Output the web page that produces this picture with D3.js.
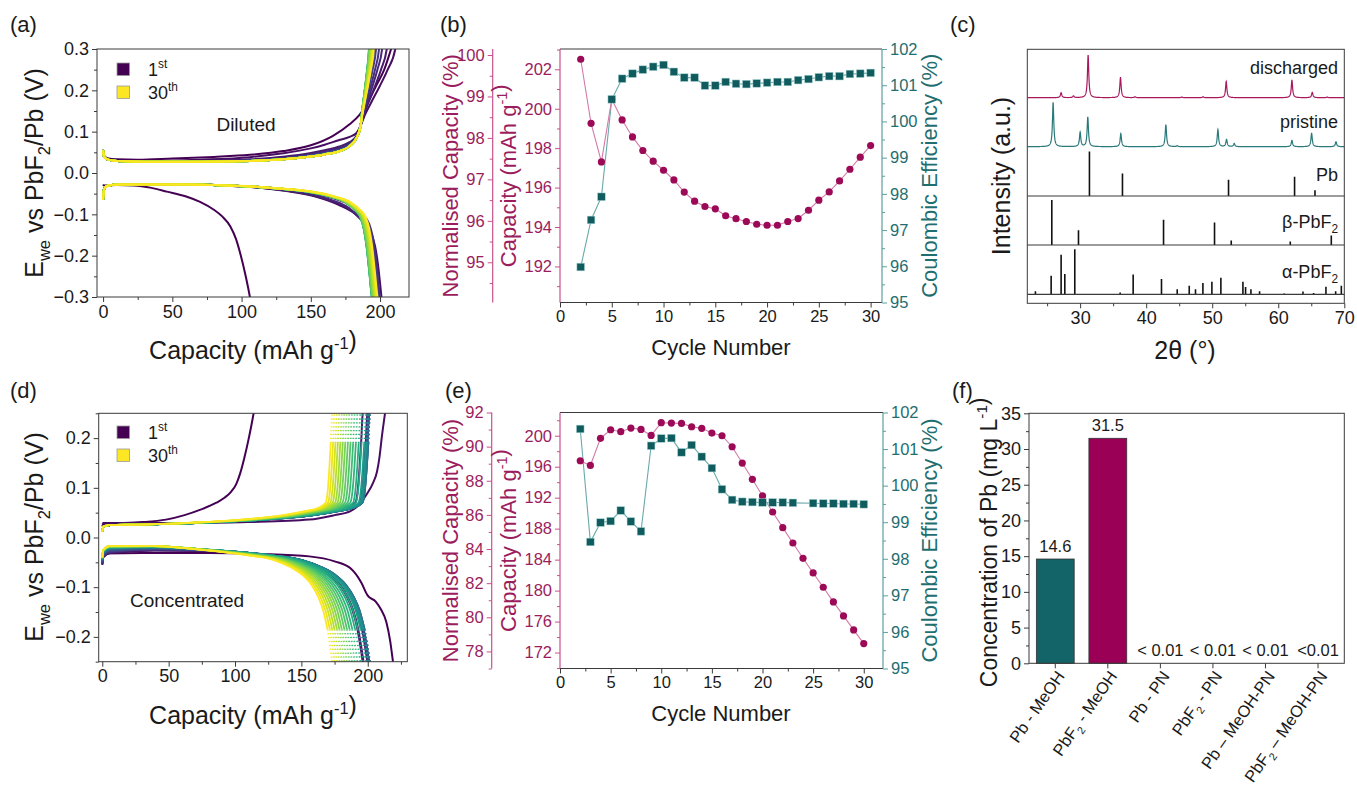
<!DOCTYPE html>
<html><head><meta charset="utf-8">
<script src="https://cdn.jsdelivr.net/npm/d3@7/dist/d3.min.js"></script>
<style>
body{margin:0;background:#fff;}
svg{font-family:"Liberation Sans",Arial,Helvetica,sans-serif;}
</style></head><body>
<svg id="fig" width="1357" height="787"></svg>
<script>
// ================= DATA =================
// cycles 2..30 for panels (b) and (e)
const cyclesBE = d3.range(2, 31);
const capB = [202.51,199.26,197.30,200.48,199.43,198.57,197.88,197.34,196.88,196.39,195.77,195.31,195.04,194.92,194.57,194.42,194.28,194.14,194.09,194.09,194.28,194.43,194.85,195.36,195.78,196.34,196.93,197.54,198.13];
const ceB  = [95.98,97.28,97.92,100.61,101.18,101.32,101.43,101.51,101.56,101.37,101.21,101.21,100.99,100.99,101.09,101.04,101.03,101.05,101.07,101.09,101.09,101.14,101.17,101.22,101.25,101.25,101.31,101.32,101.34];
const capE = [196.77,196.17,199.66,200.77,200.52,200.99,200.82,200.04,201.68,201.63,201.59,201.16,200.95,200.34,200.00,198.58,196.47,194.37,192.22,190.15,188.13,186.15,184.17,182.28,180.43,178.54,176.73,174.92,173.16];
const ceE  = [101.55,98.46,98.99,99.03,99.32,99.02,98.75,101.09,101.29,101.30,100.91,101.11,100.79,100.48,99.90,99.61,99.56,99.55,99.54,99.54,99.54,99.53,null,99.52,99.51,99.51,99.50,99.50,99.49];

// axis ticks
const cycleTicks = [0,5,10,15,20,25,30];
const capTicksB = [192,194,196,198,200,202];
const normTicksB = [95,96,97,98,99,100];
const capTicksE = [172,176,180,184,188,192,196,200];
const normTicksE = [78,80,82,84,86,88,90,92];
const ceTicks = [95,96,97,98,99,100,101,102];

// panel (a) diluted: voltage curves [capacity mAh/g, V]
const dis1A = [[0,-0.028],[0.5,-0.03],[10,-0.029],[22,-0.03],[35,-0.036],[46,-0.045],[60,-0.057],[70,-0.07],[80,-0.089],[86,-0.105],[92,-0.13],[96,-0.16],[99,-0.194],[103,-0.25],[106,-0.3],[107,-0.32]];
const ch1A = [[0,0.05],[0.6,0.042],[3,0.036],[10,0.033],[25,0.032],[50,0.035],[80,0.039],[106,0.044],[130,0.053],[150,0.067],[166,0.09],[178,0.118],[185,0.14],[191,0.17],[197,0.21],[203,0.25],[208,0.3],[210,0.32]];
// discharge profile (fraction of cycle capacity, V)
const disProfA = [[0,-0.065],[0.003,-0.04],[0.015,-0.031],[0.06,-0.028],[0.3,-0.028],[0.45,-0.03],[0.56,-0.033],[0.66,-0.038],[0.76,-0.045],[0.84,-0.056],[0.9,-0.07],[0.935,-0.088],[0.958,-0.108],[0.97,-0.135],[0.98,-0.175],[0.99,-0.235],[1,-0.3],[1.01,-0.33]];
const polDisA = [0.05,0.035,0.025,0.018,0.013,0.01,0.008,0.006,0.005,0.004,0.003,0.002,0.002,0.001,0.001,0,0,0,0,0,0,0,0,0,0,0,0,0,0];
// charge plateau (absolute capacity up to the knee) and tail (fraction of knee->end)
const chPlatA = [[0,0.056],[0.6,0.04],[3,0.033],[10,0.029],[30,0.027],[70,0.027],[106,0.029],[130,0.033],[150,0.04],[160,0.045],[170,0.052],[178,0.065],[183,0.085],[186,0.115]];
const chTailA = [[0,0.115],[0.12,0.14],[0.3,0.17],[0.55,0.21],[0.78,0.25],[1,0.3],[1.06,0.33]];
const chBumpA = [[0,0],[60,0.15],[110,0.35],[150,0.7],[172,1],[181,0.7],[186,0]];
const polChA = [0.028,0.012,0.008,0.005,0.004,0.003,0.002,0.002,0.001,0.001,0,0,0,0,0,0,0,0,0,0,0,0,0,0,0,0,0,0,0];

// panel (d) concentrated
const ch1D = [[0,0.022],[0.5,0.026],[3,0.028],[15,0.029],[30,0.031],[48,0.036],[62,0.045],[74,0.056],[86,0.07],[92,0.08],[97,0.092],[101,0.108],[104,0.13],[107,0.16],[110,0.195],[113,0.235],[115,0.265]];
const ch2D = [[0,0.03],[0.5,0.029],[10,0.029],[60,0.029],[110,0.031],[156,0.036],[175,0.045],[187,0.053],[194,0.068],[199,0.086],[204,0.11],[207,0.133],[209,0.165],[210.5,0.2],[213,0.25],[214,0.27]];
const dis1D = [[0,-0.033],[0.5,-0.032],[30,-0.031],[80,-0.031],[120,-0.033],[156,-0.038],[175,-0.048],[187,-0.062],[195,-0.09],[200,-0.117],[206,-0.129],[210,-0.145],[214,-0.17],[217,-0.21],[219,-0.25],[220,-0.27]];
const chProfD = [[0,0.012],[0.004,0.022],[0.03,0.025],[0.15,0.026],[0.35,0.029],[0.55,0.034],[0.7,0.04],[0.8,0.046],[0.88,0.053],[0.94,0.06],[0.972,0.07],[0.982,0.1],[0.988,0.14],[0.994,0.19],[1,0.25],[1.005,0.27]];
const disProfD = [[0,-0.045],[0.004,-0.03],[0.03,-0.022],[0.2,-0.02],[0.4,-0.025],[0.55,-0.031],[0.65,-0.037],[0.75,-0.046],[0.82,-0.06],[0.87,-0.075],[0.91,-0.095],[0.94,-0.12],[0.96,-0.145],[0.98,-0.185],[0.99,-0.215],[1,-0.25],[1.005,-0.27]];
const shiftDisD = [-0.01,-0.009,-0.008,-0.007,-0.006,-0.005,-0.004,-0.003,-0.002,-0.001,0,0,0.001,0.001,0.002,0.002,0.002,0.003,0.003,0.003,0.004,0.004,0.004,0.004,0.005,0.005,0.005,0.005,0.005];

// panel (c) XRD: peak positions (2θ) and relative intensities
const dischargedPos = [27.12,28.99,31.21,36.11,38.3,45.4,48.6,52.12,62.07,65.15,67.4];
const dischargedInt = [11,4,94,45,2,1.5,2,36,39,12,1.5];
const pristinePos = [25.91,30.0,31.16,36.16,42.98,44.7,50.86,52.17,53.33,62.07,65.05,68.74];
const pristineInt = [98,32,66,29,49,2,38,16,7,14,30,11];
const pbPos = [31.41,36.41,52.47,62.47,65.56];
const pbInt = [99,50,36,43,13];
const betaPos = [25.71,29.75,42.63,50.35,52.88,61.82,68.03];
const betaInt = [100,33,56,50,10,8,21];
const alphaPos = [23.23,25.61,27.12,27.68,29.19,36.06,38.03,42.32,44.70,46.52,47.47,48.59,49.95,51.31,54.65,55.05,55.86,57.17,60.91,63.74,65.35,67.22,68.69,69.55];
const alphaInt = [7,41,88,45,100,4,44,34,11,19,11,25,28,37,28,16,11,7,2,6,3,17,7,19];
const xrdTicks = [30,40,50,60,70];

// panel (f)
const catsF = ["Pb - MeOH","PbF2 - MeOH","Pb - PN","PbF2 - PN","Pb \u2013 MeOH-PN","PbF2 \u2013 MeOH-PN"];
const valsF = [14.6,31.5,0,0,0,0];
const labelsF = ["14.6","31.5","< 0.01","< 0.01","< 0.01","<0.01"];
const ticksF = [0,5,10,15,20,25,30,35];

// ================= STYLE =================
const FONT = '"Liberation Sans", Arial, sans-serif';
const INK = '#1a1a1a', FRAME = '#3a3a3a';
const PINK_MARK = '#9c0a57', PINK_LINE = '#d27aa9', PINK_AX = '#c8508e', PINK_TXT = '#9b1d5d';
const TEAL_MARK = '#0f5b5e', TEAL_LINE = '#6aa9aa', TEAL_AX = '#5c9ea0', TEAL_TXT = '#1f6e70';

const svg = d3.select('#fig');
const defs = svg.append('defs');

function rich(sel, parts, fs) {
  let shift = 0;
  parts.forEach(p => {
    const [t, k] = Array.isArray(p) ? p : [p, 'n'];
    const target = k === 'sub' ? 0.28 * fs : k === 'sup' ? -0.42 * fs : 0;
    const ts = sel.append('tspan').text(t).attr('dy', target - shift);
    if (k !== 'n') ts.attr('font-size', fs * 0.66);
    shift = target;
  });
  return sel;
}
function text(x, y, parts, o = {}) {
  const fs = o.fs || 18;
  const t = svg.append('text').attr('x', x).attr('y', y)
    .attr('font-size', fs).attr('font-family', FONT)
    .attr('fill', o.fill || INK).attr('text-anchor', o.anchor || 'start');
  if (o.rot) t.attr('transform', `rotate(${o.rot},${x},${y})`);
  return rich(t, parts, fs);
}
function axisG(type, scale, majors, fmt, o) {
  const mk = {left: d3.axisLeft, right: d3.axisRight, bottom: d3.axisBottom}[type];
  const g = svg.append('g').attr('transform', o.tr);
  g.call(mk(scale).tickValues(majors).tickFormat(fmt).tickSize(o.size || 5).tickPadding(o.pad || 3));
  g.select('.domain').remove();
  g.selectAll('.tick line').attr('stroke', o.color || FRAME);
  g.selectAll('.tick text').attr('fill', o.text || INK).attr('font-size', o.fs || 18).attr('font-family', FONT);
  if (o.minor) {
    const gm = svg.append('g').attr('transform', o.tr);
    gm.call(mk(scale).tickValues(o.minor).tickFormat('').tickSize(o.msize || 3));
    gm.select('.domain').remove();
    gm.selectAll('.tick line').attr('stroke', o.color || FRAME);
  }
  return g;
}
function clip(id, x0, y0, x1, y1) {
  defs.append('clipPath').attr('id', id).append('rect')
    .attr('x', x0).attr('y', y0).attr('width', x1 - x0).attr('height', y1 - y0);
}
const viridis = n => d3.interpolateViridis((n - 1) / 29);

// panel labels
[['(a)',10,32],['(b)',440,32],['(c)',950,32],['(d)',10,398],['(e)',445,398],['(f)',952,398]]
  .forEach(([s,x,y]) => text(x, y, [s], {fs: 22}));

// ================= PANEL (a) / (d) helpers =================
function galvPanel(P) {
  const x = d3.scaleLinear().domain(P.xd).range([P.x0, P.x1]);
  const y = d3.scaleLinear().domain(P.yd).range([P.y1, P.y0]);
  clip(P.id, P.x0, P.y0, P.x1, P.y1);
  const g = svg.append('g').attr('clip-path', `url(#${P.id})`);
  const line = d3.line().x(d => x(d[0])).y(d => y(d[1])).curve(d3.curveMonotoneX);
  P.curves.forEach(c => {
    if (c.dotFrom != null) {
      const i = c.pts.findIndex(d => Math.abs(d[1]) > c.dotFrom);
      g.append('path').attr('d', line(c.pts.slice(0, i))).attr('fill','none')
        .attr('stroke', c.color).attr('stroke-width', 1.8);
      g.append('path').attr('d', line(c.pts.slice(i - 1))).attr('fill','none')
        .attr('stroke', c.color).attr('stroke-width', 1.8).attr('stroke-dasharray','1.3,2.6');
    } else {
      g.append('path').attr('d', line(c.pts)).attr('fill','none')
        .attr('stroke', c.color).attr('stroke-width', 2);
    }
  });
  svg.append('rect').attr('x', P.x0).attr('y', P.y0).attr('width', P.x1 - P.x0).attr('height', P.y1 - P.y0)
    .attr('fill','none').attr('stroke', FRAME).attr('stroke-width', 1);
  axisG('bottom', x, [0,50,100,150,200], d3.format('d'), {tr:`translate(0,${P.y1})`, minor: P.xminor, fs: 18});
  axisG('left', y, P.yticks, d3.format('.1f'), {tr:`translate(${P.x0},0)`, minor: P.yminor, fs: 18});
  // legend
  const lx = 117, ly = P.legY;
  [[1,'1',ly],[30,'30',ly+23]].forEach(([n, s, yy], k) => {
    svg.append('rect').attr('x', lx).attr('y', yy - 6).attr('width', 12.5).attr('height', 12.5)
      .attr('fill', viridis(n)).attr('stroke', '#9a9a9a').attr('stroke-width', 0.8);
    text(148, yy + 6.5, [s, [k ? 'th' : 'st', 'sup']], {fs: 18});
  });
  text(P.tagX, P.tagY, [P.tag], {fs: 19, anchor: 'middle'});
  text(P.x0 + (P.x1 - P.x0) * 0.5 + 0, P.xtY, ['Capacity (mAh g', ['-1','sup'], ['',''], ')'], {fs: 25, anchor: 'middle'});
  text(43, P.ytY, ['E', ['we','sub'], ' vs PbF', ['2','sub'], '/Pb (V)'], {fs: 25, anchor: 'middle', rot: -90});
}
const interp = prof => d3.scaleLinear().domain(prof.map(d => d[0])).range(prof.map(d => d[1]));

// ----- (a) curves -----
const curvesA = [];
curvesA.push({pts: dis1A, color: viridis(1)});
curvesA.push({pts: ch1A, color: viridis(1)});
const bumpA = interp(chBumpA);
cyclesBE.forEach((n, i) => {
  const end = capB[i];
  const dis = disProfA.map(([f, v]) => [f * end, v - polDisA[i] * Math.pow(Math.min(f,1), 5)]);
  const chEnd = capB[i] * 100 / ceB[i];
  const knee = chPlatA[chPlatA.length - 1][0];
  const plat = chPlatA.map(([c, v]) => [c, v + polChA[i] * bumpA(c)]);
  const tail = chTailA.slice(1).map(([f, v]) => [knee + f * (chEnd - knee), v]);
  curvesA.push({pts: dis, color: viridis(n)});
  curvesA.push({pts: plat.concat(tail), color: viridis(n)});
});
galvPanel({id:'clipA', x0:97, x1:409, y0:49, y1:297, xd:[-4.4,220.9], yd:[-0.3,0.3],
  yticks:[-0.3,-0.2,-0.1,0,0.1,0.2,0.3], yminor:[-0.25,-0.15,-0.05,0.05,0.15,0.25], xminor:[25,75,125,175],
  curves: curvesA, legY: 69, tag:'Diluted', tagX: 246, tagY: 131, xtY: 359, ytY: 173});

// ----- (d) curves -----
const curvesD = [];
curvesD.push({pts: dis1D, color: viridis(1)});
curvesD.push({pts: ch1D, color: viridis(1)});
curvesD.push({pts: ch2D, color: viridis(2)});
cyclesBE.forEach((n, i) => {
  const end = capE[i];
  const dis = disProfD.map(([f, v]) => { const c = f * end; return [c, v + shiftDisD[i] * Math.max(0, 1 - c / 100)]; });
  curvesD.push({pts: dis, color: viridis(n), dotFrom: n >= 9 ? 0.19 : null});
  if (n >= 3) {
    const ch = chProfD.map(([f, v]) => [f * end, v]);
    curvesD.push({pts: ch, color: viridis(n), dotFrom: n >= 9 ? 0.195 : null});
  }
});
galvPanel({id:'clipD', x0:98.7, x1:407.3, y0:413.3, y1:661.7, xd:[-2.7,229.8], yd:[-0.25,0.25],
  yticks:[-0.2,-0.1,0,0.1,0.2], yminor:[-0.25,-0.15,-0.05,0.05,0.15,0.25], xminor:[25,75,125,175,225],
  curves: curvesD, legY: 432, tag:'Concentrated', tagX: 187, tagY: 607, xtY: 724, ytY: 537});

// ================= PANELS (b) / (e) =================
function cyclePanel(P) {
  const x = d3.scaleLinear().domain(P.xd).range([560, P.x1]);
  const yC = d3.scaleLinear().domain(P.capD).range([P.y1, P.y0]);
  const yN = d3.scaleLinear().domain(P.normD).range([P.y1, P.y0]);
  const yE = d3.scaleLinear().domain([95, 102]).range([P.y1, P.y0]);
  // frame
  svg.append('line').attr('x1',560).attr('x2',P.x1).attr('y1',P.y0).attr('y2',P.y0).attr('stroke',FRAME);
  svg.append('line').attr('x1',560).attr('x2',P.x1).attr('y1',P.y1).attr('y2',P.y1).attr('stroke',FRAME);
  svg.append('line').attr('x1',560).attr('x2',560).attr('y1',P.y0).attr('y2',P.y1).attr('stroke',PINK_AX).attr('stroke-width',1.2);
  svg.append('line').attr('x1',P.x1).attr('x2',P.x1).attr('y1',P.y0).attr('y2',P.y1).attr('stroke',TEAL_AX).attr('stroke-width',1.2);
  svg.append('line').attr('x1',P.nx).attr('x2',P.nx).attr('y1',P.y0).attr('y2',P.y1).attr('stroke',PINK_AX).attr('stroke-width',1.2);
  axisG('bottom', x, cycleTicks, d3.format('d'), {tr:`translate(0,${P.y1})`, minor:[2.5,7.5,12.5,17.5,22.5,27.5], fs:16.5});
  axisG('left', yC, P.capT, d3.format('d'), {tr:'translate(560,0)', minor:P.capM, fs:16.5, color:PINK_AX, text:PINK_TXT});
  axisG('left', yN, P.normT, d3.format('d'), {tr:`translate(${P.nx},0)`, minor:P.normM, fs:16.5, color:PINK_AX, text:PINK_TXT});
  axisG('right', yE, ceTicks, d3.format('d'), {tr:`translate(${P.x1},0)`, minor:d3.range(95.5,102,1), fs:16.5, color:TEAL_AX, text:TEAL_TXT});
  // series
  const capPts = cyclesBE.map((c, i) => [c, P.cap[i]]);
  const cePts = cyclesBE.map((c, i) => [c, P.ce[i]]).filter(d => d[1] != null);
  svg.append('path').attr('d', d3.line().x(d => x(d[0])).y(d => yE(d[1]))(cePts))
    .attr('fill','none').attr('stroke',TEAL_LINE).attr('stroke-width',1.1);
  svg.append('path').attr('d', d3.line().x(d => x(d[0])).y(d => yC(d[1]))(capPts))
    .attr('fill','none').attr('stroke',PINK_LINE).attr('stroke-width',1.1);
  svg.append('g').selectAll('circle').data(capPts).join('circle')
    .attr('cx', d => x(d[0])).attr('cy', d => yC(d[1])).attr('r', 3.6).attr('fill', PINK_MARK);
  svg.append('g').selectAll('rect').data(cePts).join('rect')
    .attr('x', d => x(d[0]) - 3.8).attr('y', d => yE(d[1]) - 3.8).attr('width', 7.6).attr('height', 7.6)
    .attr('fill', TEAL_MARK).attr('stroke', '#9fcfcf').attr('stroke-width', 0.5);
  // titles
  const cy = (P.y0 + P.y1) / 2;
  text(458, cy, ['Normalised Capacity (%)'], {fs: 22, fill: PINK_TXT, anchor: 'middle', rot: -90});
  text(516, cy, ['Capacity (mAh g', ['-1','sup'], ['',''], ')'], {fs: 22, fill: PINK_TXT, anchor: 'middle', rot: -90});
  text(937, cy, ['Coulombic Efficiency (%)'], {fs: 22, fill: TEAL_TXT, anchor: 'middle', rot: -90});
  text(721, P.xtY, ['Cycle Number'], {fs: 22, anchor: 'middle'});
}
cyclePanel({xd:[0,31.1], x1:882, y0:49, y1:302.5, nx:492.7, capD:[190.17,203.03], normD:[94.03,100.145],
  capT:capTicksB, capM:[191,193,195,197,199,201,203], normT:normTicksB, normM:[94.5,95.5,96.5,97.5,98.5,99.5],
  cap:capB, ce:ceB, xtY:355});
cyclePanel({xd:[0,31.9], x1:883, y0:412.5, y1:668.5, nx:491.7, capD:[169.94,203.0], normD:[77,92],
  capT:capTicksE, capM:[170,174,178,182,186,190,194,198,202], normT:normTicksE, normM:[77,79,81,83,85,87,89,91],
  cap:capE, ce:ceE, xtY:721});

// ================= PANEL (c) =================
(function() {
  const X0 = 1027.3, X1 = 1344.3, Y0 = 49.3, Y1 = 303.3;
  const x = d3.scaleLinear().domain([22, 70]).range([X0, X1]);
  clip('clipC', X0, Y0, X1, Y1);
  const g = svg.append('g').attr('clip-path', 'url(#clipC)');
  const layer = base => d3.scaleLinear().domain([0, 100]).range([base, base - 45]);
  const grid = d3.range(22, 70.0001, 0.02);
  const profile = (pos, ints, hw) => grid.map(t => [t, d3.sum(pos, (p, k) => ints[k] / (1 + ((t - p) / hw) ** 2))]);
  const pattern = (pos, ints, base, color) => {
    const y = layer(base);
    g.append('path').attr('d', d3.line().x(d => x(d[0])).y(d => y(d[1]))(profile(pos, ints, 0.12)))
      .attr('fill','none').attr('stroke', color).attr('stroke-width', 1.2);
  };
  pattern(dischargedPos, dischargedInt, 97.7, '#a8185f');
  pattern(pristinePos, pristineInt, 146.7, '#2b7a7b');
  const sticks = (pos, ints, base) => {
    const y = layer(base);
    svg.append('line').attr('x1', X0).attr('x2', X1).attr('y1', base).attr('y2', base).attr('stroke', FRAME).attr('stroke-width', 1.2);
    g.append('g').selectAll('line').data(pos).join('line')
      .attr('x1', d => x(d)).attr('x2', d => x(d)).attr('y1', base).attr('y2', (d, k) => y(ints[k]))
      .attr('stroke', '#111').attr('stroke-width', 1.6);
  };
  sticks(pbPos, pbInt, 196);
  sticks(betaPos, betaInt, 245);
  sticks(alphaPos, alphaInt, 294.3);
  svg.append('rect').attr('x', X0).attr('y', Y0).attr('width', X1 - X0).attr('height', Y1 - Y0)
    .attr('fill','none').attr('stroke', FRAME);
  axisG('bottom', x, xrdTicks, d3.format('d'), {tr:`translate(0,${Y1})`, minor:[25,35,45,55,65], fs:18});
  const lx = 1338;
  text(lx, 74, ['discharged'], {fs: 18, anchor: 'end'});
  text(lx, 128, ['pristine'], {fs: 18, anchor: 'end'});
  text(lx, 181, ['Pb'], {fs: 18, anchor: 'end'});
  text(lx, 228, ['\u03b2-PbF', ['2','sub']], {fs: 18, anchor: 'end'});
  text(lx, 278, ['\u03b1-PbF', ['2','sub']], {fs: 18, anchor: 'end'});
  text(1010, 176, ['Intensity (a.u.)'], {fs: 25, anchor: 'middle', rot: -90});
  text(1185, 359, ['2\u03b8 (\u00b0)'], {fs: 25, anchor: 'middle'});
})();

// ================= PANEL (f) =================
(function() {
  const X0 = 1029, X1 = 1344.3, Y0 = 413.3, Y1 = 663.3;
  const x = d3.scaleBand().domain(catsF).range([X0, X1]).paddingInner(0.28).paddingOuter(0.14);
  const y = d3.scaleLinear().domain([0, 35]).range([Y1, Y0]);
  const colors = ['#136469', '#9b0057'];
  svg.append('g').selectAll('rect').data(catsF.filter((c, i) => valsF[i] > 0)).join('rect')
    .attr('x', d => x(d)).attr('width', x.bandwidth())
    .attr('y', d => y(valsF[catsF.indexOf(d)])).attr('height', d => Y1 - y(valsF[catsF.indexOf(d)]))
    .attr('fill', (d, i) => colors[i]).attr('stroke', '#333').attr('stroke-width', 0.8);
  svg.append('rect').attr('x', X0).attr('y', Y0).attr('width', X1 - X0).attr('height', Y1 - Y0)
    .attr('fill','none').attr('stroke', FRAME);
  axisG('left', y, ticksF, d3.format('d'), {tr:`translate(${X0},0)`, minor:[2.5,7.5,12.5,17.5,22.5,27.5,32.5], fs:18});
  axisG('bottom', x, catsF, () => '', {tr:`translate(0,${Y1})`, fs:16});
  catsF.forEach((c, i) => {
    const cx = x(c) + x.bandwidth() / 2;
    text(cx, y(valsF[i]) - 7, [labelsF[i]], {fs: 16.5, anchor: 'middle'});
    const parts = [];
    const segs = c.split('F2');
    segs.forEach((s, k) => { parts.push(s + (k < segs.length - 1 ? 'F' : '')); if (k < segs.length - 1) parts.push(['2','sub']); });
    const t = svg.append('text').attr('font-size', 16.5).attr('font-family', FONT).attr('fill', INK)
      .attr('text-anchor', 'end').attr('transform', `translate(${cx + 10},${Y1 + 13}) rotate(-55)`);
    rich(t, parts, 16.5);
  });
  text(997, (Y0 + Y1) / 2 + 4, ['Concentration of Pb (mg L', ['-1','sup'], ['',''], ')'], {fs: 23, anchor: 'middle', rot: -90});
})();
</script>
</body></html>
